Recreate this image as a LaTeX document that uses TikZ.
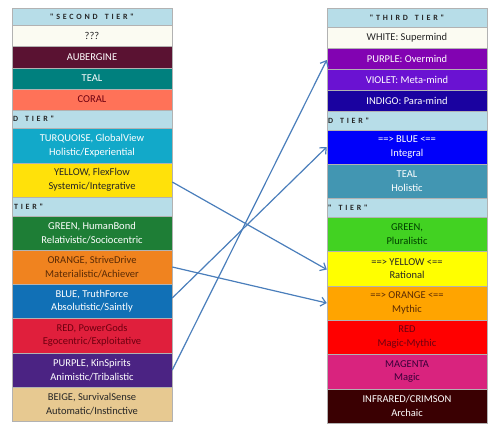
\documentclass[tikz,border=0pt]{standalone}
\usepackage{fontspec}
\setmainfont{Carlito}
\newfontfamily\tierfont[LetterSpace=35]{Carlito}
\usetikzlibrary{arrows.meta, positioning}
\definecolor{TierHead}{HTML}{B7DDE8}
\definecolor{Ivory}{HTML}{FBFBF2}
\definecolor{Aubergine}{HTML}{5A1232}
\definecolor{TealL}{HTML}{00807E}
\definecolor{Coral}{HTML}{FF7258}
\definecolor{Turquoise}{HTML}{12A9C9}
\definecolor{YellowL}{HTML}{FFE10A}
\definecolor{GreenL}{HTML}{1E7E36}
\definecolor{OrangeL}{HTML}{F0831F}
\definecolor{BlueL}{HTML}{1170B6}
\definecolor{RedL}{HTML}{E01F3C}
\definecolor{PurpleL}{HTML}{4B2383}
\definecolor{Beige}{HTML}{E7C991}
\definecolor{PurpleR}{HTML}{8203B2}
\definecolor{VioletR}{HTML}{6A12D2}
\definecolor{IndigoR}{HTML}{1A02A0}
\definecolor{BlueR}{HTML}{0000FA}
\definecolor{TealR}{HTML}{4296B2}
\definecolor{GreenR}{HTML}{42D222}
\definecolor{YellowR}{HTML}{FFFF00}
\definecolor{OrangeR}{HTML}{FFA400}
\definecolor{RedR}{HTML}{FF0000}
\definecolor{MagentaR}{HTML}{D9237E}
\definecolor{Infrared}{HTML}{3A0002}
\definecolor{DarkText}{HTML}{262626}
\definecolor{DarkRed}{HTML}{6E0010}
\definecolor{DarkBrown}{HTML}{5A2A05}
\definecolor{LinkBlue}{HTML}{4A7EBB}
\tikzset{
    % Row styles
    tierrow/.style={
        rectangle,
        draw=black!30,
        line width=0.5pt,
        minimum width=160pt,
        inner sep=0pt,
        align=center,
        font=\fontsize{10.5}{13.5}\selectfont
    },
    tierhead/.style={
        tierrow,
        fill=TierHead,
        text=DarkText,
        font=\tierfont\bfseries\fontsize{8}{9}\selectfont
    },
    % Arrow style
    link/.style={
        -{Straight Barb[length=5pt, width=9pt]},
        line width=1.2pt,
        draw=LinkBlue
    }
}
\begin{document}
\begin{tikzpicture}[x=1pt, y=-1pt]
    \useasboundingbox (0,0) rectangle (500,433);

    % Left column
    \node[tierhead, minimum height=18pt] (lhead1) at (92,17) {"SECOND\hspace{7pt}TIER"};
    \node[tierrow, fill=Ivory, text=DarkText, minimum height=21pt] (lunknown) at (92,35.5) {???};
    \node[tierrow, fill=Aubergine, text=white, minimum height=22pt] (laubergine) at (92,57) {AUBERGINE};
    \node[tierrow, fill=TealL, text=white, minimum height=21pt] (lteal) at (92,78.5) {TEAL};
    \node[tierrow, fill=Coral, text=DarkRed, minimum height=21pt] (lcoral) at (92,99.5) {CORAL};
    \node[tierhead, minimum height=18pt, text width=158pt, align=left] (lhead2) at (92,119) {D\hspace{7pt}TIER"};
    \node[tierrow, fill=Turquoise, text=white, minimum height=35pt] (lturquoise) at (92,145.5) {TURQUOISE, GlobalView\\Holistic/Experiential};
    \node[tierrow, fill=YellowL, text=DarkText, minimum height=34pt] (lyellow) at (92,180) {YELLOW, FlexFlow\\Systemic/Integrative};
    \node[tierhead, minimum height=19pt, text width=156pt, align=left] (lhead3) at (92,206.5) {TIER"};
    \node[tierrow, fill=GreenL, text=white, minimum height=34pt] (lgreen) at (92,233) {GREEN, HumanBond\\Relativistic/Sociocentric};
    \node[tierrow, fill=OrangeL, text=DarkBrown, minimum height=34pt] (lorange) at (92,267) {ORANGE, StriveDrive\\Materialistic/Achiever};
    \node[tierrow, fill=BlueL, text=white, minimum height=34pt] (lblue) at (92,301) {BLUE, TruthForce\\Absolutistic/Saintly};
    \node[tierrow, fill=RedL, text=DarkRed, minimum height=35pt] (lred) at (92,335.5) {RED, PowerGods\\Egocentric/Exploitative};
    \node[tierrow, fill=PurpleL, text=white, minimum height=34pt] (lpurple) at (92,370) {PURPLE, KinSpirits\\Animistic/Tribalistic};
    \node[tierrow, fill=Beige, text=DarkText, minimum height=34pt] (lbeige) at (92,404) {BEIGE, SurvivalSense\\Automatic/Instinctive};

    % Right column
    \node[tierhead, minimum height=19pt] (rhead1) at (407,17.5) {"THIRD\hspace{7pt}TIER"};
    \node[tierrow, fill=Ivory, text=DarkText, minimum height=21pt] (rwhite) at (407,37.5) {WHITE: Supermind};
    \node[tierrow, fill=PurpleR, text=white, minimum height=21pt] (rpurple) at (407,58.5) {PURPLE: Overmind};
    \node[tierrow, fill=VioletR, text=white, minimum height=21pt] (rviolet) at (407,79.5) {VIOLET: Meta-mind};
    \node[tierrow, fill=IndigoR, text=white, minimum height=21pt] (rindigo) at (407,100.5) {INDIGO: Para-mind};
    \node[tierhead, minimum height=19pt, text width=158pt, align=left] (rhead2) at (407,120.5) {D\hspace{7pt}TIER"};
    \node[tierrow, fill=BlueR, text=white, minimum height=34pt] (rblue) at (407,147) {==> BLUE <==\\Integral};
    \node[tierrow, fill=TealR, text=white, minimum height=34pt] (rteal) at (407,181) {TEAL\\Holistic};
    \node[tierhead, minimum height=19pt, text width=158pt, align=left] (rhead3) at (407,207.5) {"\hspace{7pt}TIER"};
    \node[tierrow, fill=GreenR, text=green!25!black, minimum height=34pt] (rgreen) at (407,234) {GREEN,\\Pluralistic};
    \node[tierrow, fill=YellowR, text=DarkText, minimum height=35pt] (ryellow) at (407,268.5) {==> YELLOW <==\\Rational};
    \node[tierrow, fill=OrangeR, text=DarkBrown, minimum height=34pt] (rorange) at (407,303) {==> ORANGE <==\\Mythic};
    \node[tierrow, fill=RedR, text=DarkRed, minimum height=34pt] (rred) at (407,337) {RED\\Magic-Mythic};
    \node[tierrow, fill=MagentaR, text=violet!45!black, minimum height=35pt] (rmagenta) at (407,371.5) {MAGENTA\\Magic};
    \node[tierrow, fill=Infrared, text=white, minimum height=34pt] (rinfrared) at (407,406) {INFRARED/CRIMSON\\Archaic};

    % Links between the columns
    \draw[link] ([yshift=-2pt]lyellow.east) -- ([yshift=-1pt]ryellow.west);
    \draw[link] (lorange.east) -- (rorange.west);
    \draw[link] ([yshift=3pt]lblue.east) -- (rblue.west);
    \draw[link] (lpurple.east) -- ([yshift=-1.5pt]rpurple.west);
\end{tikzpicture}
\end{document}
